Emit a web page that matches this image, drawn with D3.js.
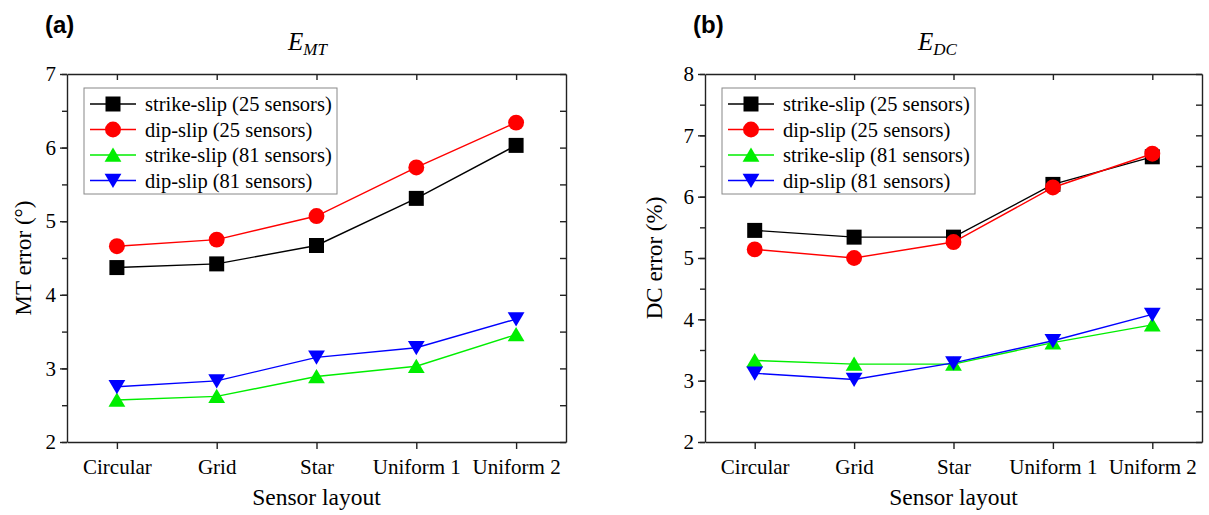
<!DOCTYPE html>
<html>
<head>
<meta charset="utf-8">
<script src="https://cdn.jsdelivr.net/npm/d3@7"></script>
<style>
  body { margin: 0; background: #fff; }
  svg { display: block; }
  .axis path, .axis line { stroke: #222; stroke-width: 1.4; }
</style>
</head>
<body>
<div id="chart"></div>
<script>
// categories
const layouts = ["Circular", "Grid", "Star", "Uniform 1", "Uniform 2"]
const seriesNames = [
  "strike-slip (25 sensors)",
  "dip-slip (25 sensors)",
  "strike-slip (81 sensors)",
  "dip-slip (81 sensors)"
]

// (a) MT error (deg)
const mtStrike25 = [4.37, 4.42, 4.67, 5.31, 6.03]
const mtDip25 = [4.66, 4.75, 5.07, 5.73, 6.34]
const mtStrike81 = [2.57, 2.62, 2.89, 3.03, 3.46]
const mtDip81 = [2.75, 2.83, 3.15, 3.28, 3.67]

// (b) DC error (%)
const dcStrike25 = [5.45, 5.34, 5.34, 6.20, 6.65]
const dcDip25 = [5.14, 5.00, 5.26, 6.15, 6.70]
const dcStrike81 = [3.33, 3.27, 3.27, 3.62, 3.91]
const dcDip81 = [3.12, 3.02, 3.29, 3.65, 4.08]

const mtTicks = [2, 3, 4, 5, 6, 7]
const dcTicks = [2, 3, 4, 5, 6, 7, 8]

const colors = ["#000000", "#ff0000", "#00ee00", "#0000ff"]
const shapes = ["square", "circle", "up", "down"]

const serif = "'Liberation Serif', 'Times New Roman', serif"
const width = 1209
const height = 515

const svg = d3.select("#chart").append("svg")
    .attr("width", width)
    .attr("height", height)

function markerPath(shape, s) {
  const p = d3.path()
  if (shape === "square") {
    p.rect(-s * 0.5, -s * 0.5, s, s)
  } else if (shape === "circle") {
    p.arc(0, 0, s * 0.53, 0, 2 * Math.PI)
  } else if (shape === "up") {
    p.moveTo(0, -s * 0.5); p.lineTo(s * 0.56, s * 0.45); p.lineTo(-s * 0.56, s * 0.45); p.closePath()
  } else {
    p.moveTo(0, s * 0.5); p.lineTo(s * 0.56, -s * 0.45); p.lineTo(-s * 0.56, -s * 0.45); p.closePath()
  }
  return p.toString()
}

function styleAxis(sel) {
  sel.attr("font-family", serif).attr("font-size", 21)
  sel.selectAll("text").attr("fill", "#000")
}

function drawPanel(cfg) {
  const { left, right, top, bottom } = cfg.box
  const g = svg.append("g")

  const x = d3.scalePoint()
    .domain(layouts)
    .range([left, right])
    .padding(0.5)

  const y = d3.scaleLinear()
    .domain(cfg.yDomain)
    .range([bottom, top])

  const halfTicks = d3.range(cfg.yDomain[0], cfg.yDomain[1] + 0.01, 0.5)

  // minor ticks on left (outside)
  g.append("g")
      .attr("class", "axis")
      .attr("transform", `translate(${left},0)`)
      .call(d3.axisLeft(y).tickValues(halfTicks).tickSize(5).tickFormat(""))
      .select(".domain").remove()

  // left axis
  g.append("g")
      .attr("class", "axis")
      .attr("transform", `translate(${left},0)`)
      .call(d3.axisLeft(y).tickValues(cfg.yTicks).tickSize(7).tickSizeOuter(0).tickPadding(4).tickFormat(d3.format("d")))
      .call(styleAxis)

  // right mirror axis, ticks inside
  g.append("g")
      .attr("class", "axis")
      .attr("transform", `translate(${right},0)`)
      .call(d3.axisRight(y).tickValues(halfTicks).tickSize(-6).tickSizeOuter(0).tickFormat(""))

  // bottom axis
  g.append("g")
      .attr("class", "axis")
      .attr("transform", `translate(0,${bottom})`)
      .call(d3.axisBottom(x).tickSize(7).tickSizeOuter(0).tickPadding(10))
      .call(styleAxis)

  // top mirror axis, ticks inside
  g.append("g")
      .attr("class", "axis")
      .attr("transform", `translate(0,${top})`)
      .call(d3.axisTop(x).tickSize(-6).tickSizeOuter(0).tickFormat(""))

  // series
  const line = d3.line()
    .x((d, i) => x(layouts[i]))
    .y(d => y(d))

  cfg.series.forEach((vals, k) => {
    g.append("path")
        .datum(vals)
        .attr("fill", "none")
        .attr("stroke", colors[k])
        .attr("stroke-width", 1.4)
        .attr("d", line)
    g.selectAll(null)
      .data(vals)
      .join("path")
        .attr("transform", (d, i) => `translate(${x(layouts[i])},${y(d)})`)
        .attr("d", markerPath(shapes[k], 15))
        .attr("fill", colors[k])
  })

  // legend
  const lg = g.append("g")
      .attr("transform", `translate(${cfg.legend[0]},${cfg.legend[1]})`)
  lg.append("rect")
      .attr("x", 0)
      .attr("y", 0)
      .attr("width", 253)
      .attr("height", 106)
      .attr("fill", "#fff")
      .attr("stroke", "#888")
      .attr("stroke-width", 1)
  seriesNames.forEach((name, k) => {
    const ry = 16 + k * 25.5
    lg.append("line")
        .attr("x1", 6)
        .attr("x2", 52)
        .attr("y1", ry)
        .attr("y2", ry)
        .attr("stroke", colors[k])
        .attr("stroke-width", 1.4)
    lg.append("path")
        .attr("transform", `translate(29,${ry})`)
        .attr("d", markerPath(shapes[k], 15))
        .attr("fill", colors[k])
    lg.append("text")
        .attr("x", 61)
        .attr("y", ry + 7)
        .attr("font-family", serif)
        .attr("font-size", 20.5)
        .text(name)
  })

  // axis titles
  g.append("text")
      .attr("transform", `translate(${cfg.yLabelX},${(top + bottom) / 2}) rotate(-90)`)
      .attr("text-anchor", "middle")
      .attr("font-family", serif)
      .attr("font-size", 23)
      .text(cfg.yLabel)

  g.append("text")
      .attr("x", (left + right) / 2)
      .attr("y", 505)
      .attr("text-anchor", "middle")
      .attr("font-family", serif)
      .attr("font-size", 23.5)
      .text("Sensor layout")

  // panel title E_xx
  const t = g.append("text")
      .attr("x", cfg.titleX)
      .attr("y", 50)
      .attr("font-family", serif)
      .attr("font-style", "italic")
      .attr("font-size", 25)
  t.append("tspan").text("E")
  t.append("tspan")
      .attr("dy", 5)
      .attr("font-size", 17)
      .text(cfg.sub)

  // panel letter
  g.append("text")
      .attr("x", cfg.letterX)
      .attr("y", 33)
      .attr("font-family", "'Liberation Sans', Arial, sans-serif")
      .attr("font-weight", "bold")
      .attr("font-size", 24)
      .text(cfg.letter)
}

drawPanel({
  box: { left: 67, right: 566, top: 74, bottom: 442 },
  yDomain: [2, 7],
  yTicks: mtTicks,
  series: [mtStrike25, mtDip25, mtStrike81, mtDip81],
  legend: [84, 88],
  yLabel: "MT error (°)",
  yLabelX: 31,
  titleX: 288,
  sub: "MT",
  letter: "(a)",
  letterX: 45
})

drawPanel({
  box: { left: 705, right: 1202, top: 74, bottom: 442 },
  yDomain: [2, 8],
  yTicks: dcTicks,
  series: [dcStrike25, dcDip25, dcStrike81, dcDip81],
  legend: [722, 88],
  yLabel: "DC error (%)",
  yLabelX: 662,
  titleX: 918,
  sub: "DC",
  letter: "(b)",
  letterX: 693
})
</script>
</body>
</html>
